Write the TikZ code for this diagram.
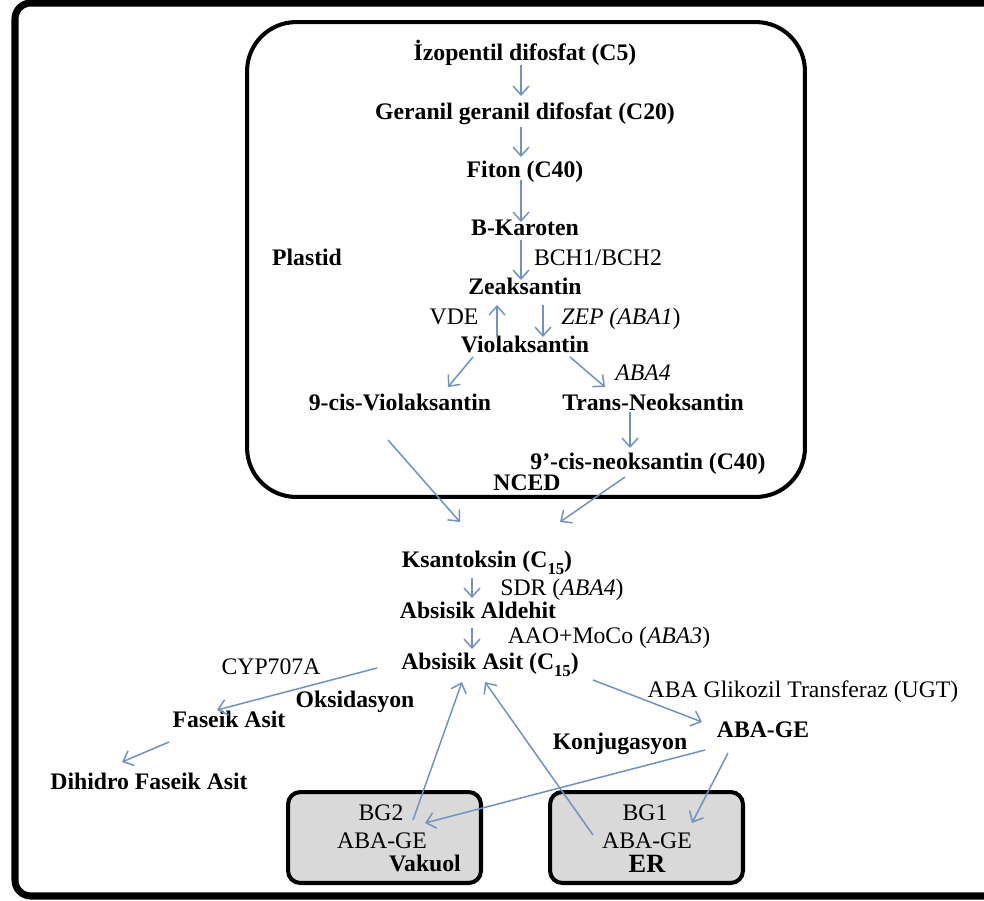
\documentclass[tikz,border=0pt]{standalone}
\usepackage{fontspec}
\setmainfont{Liberation Serif}
\usetikzlibrary{arrows.meta,calc}
\definecolor{arrc}{RGB}{112,146,190}
\definecolor{boxg}{RGB}{217,217,217}
\newcommand\subn[1]{\smash{\raisebox{-0.3em}{\fontsize{9.5}{10}\selectfont #1}}}
\begin{document}
\begin{tikzpicture}[x=0.02cm,y=-0.02cm,
  cmp/.style={font=\fontsize{13.5}{16}\selectfont\bfseries, inner sep=1pt, text height=9.5pt, text depth=3pt},
  enz/.style={font=\fontsize{13.5}{16}\selectfont, inner sep=1pt, text height=9.5pt, text depth=3pt},
  boxt/.style={font=\fontsize{13.5}{16}\selectfont, inner sep=0pt, text height=9.5pt, text depth=0pt, anchor=base},
  arr/.style={draw=arrc, line width=0.85pt, -{Straight Barb[length=5pt,width=9pt]}},
  grayb/.style={draw=black, line width=2.3pt, fill=boxg, rounded corners=7pt, minimum width=3.86cm, minimum height=1.82cm},
  frame/.style={draw=black, line width=4pt, rounded corners=9pt},
  plast/.style={draw=black, line width=2.3pt, rounded corners=28pt, minimum width=11.16cm, minimum height=9.5cm}
]
\useasboundingbox (0,0) rectangle (984,900);
\begin{scope}
\clip (0,0) rectangle (984,900);
\draw[frame] (15,3) rectangle (1000,896);
\end{scope}
\node[plast] (plastid) at (526,259.5) {};
\node[grayb] (bg2box) at (384.5,837.5) {};
\node[grayb] (bg1box) at (646.5,837.5) {};

% plastid contents
\node[cmp] (iz) at (525,55) {İzopentil difosfat (C5)};
\node[cmp] (ger) at (525,114) {Geranil geranil difosfat (C20)};
\node[cmp] (fit) at (525,172) {Fiton (C40)};
\node[cmp] (bkar) at (525,230) {B-Karoten};
\node[cmp] (plbl) at (307,260) {Plastid};
\node[enz] (bch) at (598,260) {BCH1/BCH2};
\node[cmp] (zea) at (525,289) {Zeaksantin};
\node[enz] (vde) at (454,319) {VDE};
\node[enz] (zep) at (621,319) {\textit{ZEP (ABA1})};
\node[cmp] (vio) at (525,347) {Violaksantin};
\node[enz] (aba4) at (643,375) {\textit{ABA4}};
\node[cmp] (cis9) at (400,405) {9-cis-Violaksantin};
\node[cmp] (trans) at (653,405) {Trans-Neoksantin};
\node[cmp] (neo) at (648,464) {9’-cis-neoksantin (C40)};
\node[cmp] (nced) at (527,485) {NCED};

% cytosol
\node[cmp] (ksan) at (487,562) {Ksantoksin (C\subn{15})};
\node[enz] (sdr) at (562,590) {SDR (\textit{ABA4})};
\node[cmp] (ald) at (478,613) {Absisik Aldehit};
\node[enz] (aao) at (609,638) {AAO+MoCo (\textit{ABA3})};
\node[cmp] (asit) at (490,664) {Absisik Asit (C\subn{15})};
\node[enz] (cyp) at (271,669) {CYP707A};
\node[cmp] (oks) at (355,702) {Oksidasyon};
\node[cmp] (fas) at (229,722) {Faseik Asit};
\node[cmp] (dih) at (149,784) {Dihidro Faseik Asit};
\node[enz] (ugt) at (803,692) {ABA Glikozil Transferaz (UGT)};
\node[cmp] (abage) at (763,732) {ABA-GE};
\node[cmp] (konj) at (620,744) {Konjugasyon};

% boxes text
\node[boxt] (bg2) at (381,820) {BG2};
\node[boxt] (bg2aba) at (382,848) {ABA-GE};
\node[boxt, font=\fontsize{13.5}{16}\selectfont\bfseries] (vak) at (425,871) {Vakuol};
\node[boxt] (bg1) at (645,820) {BG1};
\node[boxt] (bg1aba) at (647,848) {ABA-GE};
\node[boxt, font=\fontsize{15}{17}\selectfont\bfseries] (er) at (647,872) {ER};

% arrows
\draw[arr] ($(iz)+(-4,10)$) -- ($(ger)+(-4,-18)$);
\draw[arr] ($(ger)+(-4,13)$) -- ($(fit)+(-4,-15)$);
\draw[arr] ($(fit)+(-4,8)$) -- ($(bkar)+(-4,-8)$);
\draw[arr] ($(bkar)+(-4,10)$) -- ($(zea)+(-4,-9)$);
\draw[arr] ($(vio)+(-28,-10)$) -- ($(zea)+(-28,16)$);
\draw[arr] ($(zea)+(18,16)$) -- ($(vio)+(18,-10)$);
\draw[arr] ($(vio)+(-52,10)$) -- ($(cis9)+(48,-18)$);
\draw[arr] ($(vio)+(45,10)$) -- ($(trans)+(-48,-18)$);
\draw[arr] ($(trans)+(-23,7)$) -- ($(neo)+(-18,-16)$);
\draw[arr] ($(cis9)+(-12,35)$) -- ($(ksan)+(-27,-40)$);
\draw[arr] ($(neo)+(-23,13)$) -- ($(ksan)+(73,-40)$);
\draw[arr] ($(ksan)+(-15,16)$) -- ($(ald)+(-6,-15)$);
\draw[arr] ($(ald)+(-6,15)$) -- ($(asit)+(-18,-15)$);
\draw[arr] ($(asit)+(-113,4)$) -- ($(fas)+(-12,-12)$);
\draw[arr] ($(fas)+(-60,20)$) -- ($(dih)+(-27,-22)$);
\draw[arr] ($(asit)+(103,16)$) -- ($(abage)+(-61,-10)$);
\draw[arr] ($(abage)+(-58,18)$) -- ($(bg2box)+(40.5,-14.5)$);
\draw[arr] ($(abage)+(-35,21)$) -- ($(bg1box)+(45.5,-14.5)$);
\draw[arr] ($(bg2box)+(28.5,-17.5)$) -- ($(asit)+(-28,18)$);
\draw[arr] ($(bg1box)+(-53.5,-2.5)$) -- ($(asit)+(-5,18)$);
\end{tikzpicture}
\end{document}
